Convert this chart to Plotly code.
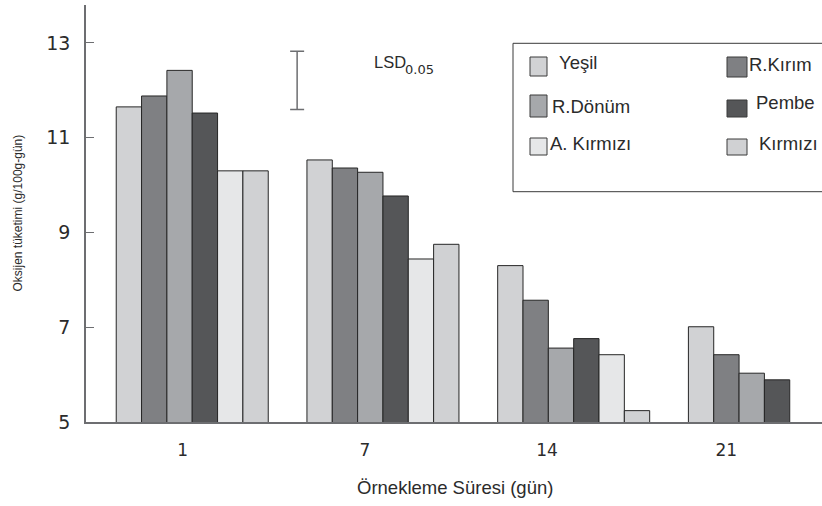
import plotly.graph_objects as go

# Sampling days and oxygen consumption per ripening stage
days = ["1", "7", "14", "21"]
stages = ["Yeşil", "R.Kırım", "R.Dönüm", "Pembe", "A. Kırmızı", "Kırmızı"]
yesil = [11.65, 10.53, 8.30, 7.01]
r_kirim = [11.88, 10.36, 7.57, 6.42]
r_donum = [12.42, 10.27, 6.56, 6.03]
pembe = [11.52, 9.77, 6.76, 5.89]
a_kirmizi = [10.30, 8.44, 6.42, None]
kirmizi = [10.30, 8.75, 5.24, None]
series = [yesil, r_kirim, r_donum, pembe, a_kirmizi, kirmizi]
colors = ["#d1d2d4", "#7f8083", "#a6a8ab", "#555658", "#e6e7e8", "#d0d1d3"]

# LSD(0.05) bar
lsd = 1.23
lsd_center = 12.21
lsd_x = 0.55

# Tick label positions along the category axis
label_pos = [-0.05, 0.905, 1.86, 2.80]

W, H = 822, 506
ML, MR, MT, MB = 86, 0, 5, 84
PW, PH = W - ML - MR, H - MT - MB


def px(x):
    return (x - ML) / PW


def py(y):
    return (H - MB - y) / PH


xs = list(range(len(days)))
fig = go.Figure()
for name, vals, col in zip(stages, series, colors):
    fig.add_trace(go.Bar(
        x=xs, y=vals, name=name,
        marker=dict(color=col, line=dict(color="#262626", width=1)),
        showlegend=False,
    ))

fig.add_trace(go.Scatter(
    x=[lsd_x], y=[lsd_center], mode="markers",
    marker=dict(size=1, color="rgba(0,0,0,0)"),
    error_y=dict(type="constant", value=lsd / 2, width=7,
                 thickness=1.5, color="#6d6e71"),
    showlegend=False, hoverinfo="skip",
))

# Hand-built two-column legend box
shapes = [dict(type="rect", xref="paper", yref="paper",
               x0=px(513), x1=px(840), y0=py(43.3), y1=py(191.7),
               line=dict(color="#3a3a3a", width=1), fillcolor="rgba(0,0,0,0)")]
annotations = []
legend_layout = [
    # swatch x0, x1, y0, y1, text x, text y
    (530, 547, 57, 76, 557, 62),
    (727, 747, 57, 77, 747, 64),
    (530, 547, 95, 117, 550, 106),
    (727, 747, 100, 117, 754, 103),
    (530, 547, 138, 155, 548, 143),
    (727, 747, 139, 155, 757, 143),
]
for name, col, (sx0, sx1, sy0, sy1, tx, ty) in zip(stages, colors, legend_layout):
    shapes.append(dict(type="rect", xref="paper", yref="paper",
                       x0=px(sx0), x1=px(sx1), y0=py(sy1), y1=py(sy0),
                       fillcolor=col, line=dict(color="#3a3a3a", width=1)))
    annotations.append(dict(xref="paper", yref="paper", x=px(tx), y=py(ty),
                            text=name, showarrow=False, xanchor="left",
                            yanchor="middle",
                            font=dict(family="Liberation Sans", size=18.5,
                                      color="#2b2b2b")))

# LSD label with its subscript
annotations.append(dict(xref="paper", yref="paper", x=px(372), y=py(62),
                        text="LSD", showarrow=False,
                        xanchor="left", yanchor="middle",
                        font=dict(family="Liberation Sans", size=16.5,
                                  color="#2b2b2b")))
annotations.append(dict(xref="paper", yref="paper", x=px(403), y=py(69),
                        text="0.05", showarrow=False,
                        xanchor="left", yanchor="middle",
                        font=dict(family="DejaVu Sans", size=13,
                                  color="#2b2b2b")))
annotations.append(dict(xref="paper", yref="paper", x=0.502, y=py(488),
                        text="Örnekleme Süresi (gün)", showarrow=False,
                        xanchor="center", yanchor="middle",
                        font=dict(family="Liberation Sans", size=18.5,
                                  color="#2b2b2b")))
annotations.append(dict(xref="paper", yref="paper", x=px(17), y=0.5,
                        text="Oksijen tüketimi (g/100g-gün)", showarrow=False,
                        textangle=-90, xanchor="center", yanchor="middle",
                        font=dict(family="Liberation Sans", size=12,
                                  color="#2b2b2b")))

fig.update_layout(
    width=W, height=H,
    margin=dict(l=ML, r=MR, t=MT, b=MB, pad=0),
    paper_bgcolor="white", plot_bgcolor="white",
    barmode="group", bargap=0.203, bargroupgap=0,
    shapes=shapes, annotations=annotations,
    xaxis=dict(range=[-0.557, 3.302], tickvals=label_pos, ticktext=days,
               ticks="outside", ticklen=12, tickcolor="rgba(0,0,0,0)",
               showline=True, linecolor="#6d6e71", linewidth=1.5,
               showgrid=False, zeroline=False,
               tickfont=dict(family="DejaVu Sans", size=17, color="#2b2b2b")),
    yaxis=dict(range=[5, 13.8], tickvals=[5, 7, 9, 11, 13],
               ticks="inside", ticklen=8, tickcolor="#6d6e71", tickwidth=1,
               ticklabelstandoff=10,
               showline=True, linecolor="#6d6e71", linewidth=1.5,
               showgrid=False, zeroline=False,
               tickfont=dict(family="DejaVu Sans", size=19, color="#2b2b2b")),
)

fig.write_html("out.html")
